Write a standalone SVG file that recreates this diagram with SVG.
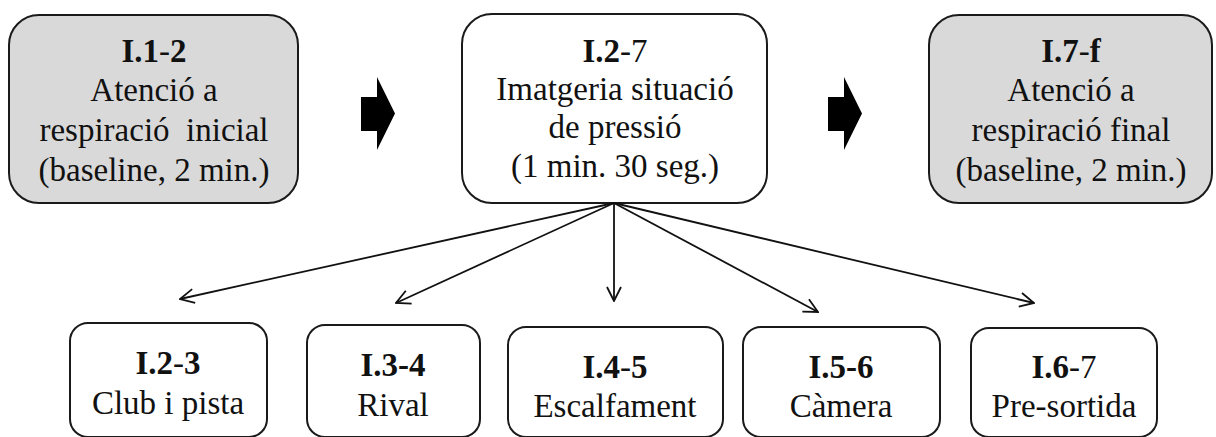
<svg xmlns="http://www.w3.org/2000/svg" width="1216" height="437" viewBox="0 0 1216 437">
  <style>
    .box { fill: #ffffff; stroke: #1a1a1a; stroke-width: 2; }
    .grey { fill: #d9d9d9; }
    .t { font-family: "Liberation Serif", "Times New Roman", serif; font-size: 33px; fill: #111; text-anchor: middle; }
    .b { font-weight: bold; }
    .link { fill: none; stroke: #111; stroke-width: 1.8; marker-end: url(#open); }
    .block { fill: #000; }
  </style>
  <defs>
    <!-- open V arrowhead for the branch lines -->
    <marker id="open" viewBox="0 0 16 16" refX="15" refY="8" markerWidth="16" markerHeight="16" markerUnits="userSpaceOnUse" orient="auto">
      <path d="M1,1 L15,8 L1,15" fill="none" stroke="#111" stroke-width="1.8"/>
    </marker>
  </defs>

  <rect width="1216" height="437" fill="#ffffff"/>

  <!-- top row: sequence of phases -->
  <g id="n-baseline-initial">
    <rect class="box grey" x="9" y="15" width="289" height="188" rx="30"/>
    <text class="t" x="154" y="62"><tspan class="b">I.1</tspan>-<tspan class="b">2</tspan></text>
    <text class="t" x="154" y="101">Atenció a</text>
    <text class="t" x="154" y="141" xml:space="preserve">respiració  inicial</text>
    <text class="t" x="154" y="181">(baseline, 2 min.)</text>
  </g>

  <g id="n-imagery">
    <rect class="box" x="462" y="14" width="305" height="189" rx="30"/>
    <text class="t" x="615" y="62"><tspan class="b">I.2</tspan>-7</text>
    <text class="t" x="615" y="100">Imatgeria situació</text>
    <text class="t" x="615" y="138">de pressió</text>
    <text class="t" x="615" y="177">(1 min. 30 seg.)</text>
  </g>

  <g id="n-baseline-final">
    <rect class="box grey" x="929" y="15" width="283" height="188" rx="30"/>
    <text class="t" x="1071" y="62"><tspan class="b">I.7</tspan>-<tspan class="b">f</tspan></text>
    <text class="t" x="1071" y="101">Atenció a</text>
    <text class="t" x="1071" y="141">respiració final</text>
    <text class="t" x="1071" y="181">(baseline, 2 min.)</text>
  </g>

  <!-- bottom row: imagery sub-phases -->
  <g id="n-club">
    <rect class="box" x="70" y="323" width="197" height="114" rx="18"/>
    <text class="t" x="168" y="374"><tspan class="b">I.2</tspan>-<tspan class="b">3</tspan></text>
    <text class="t" x="168" y="414">Club i pista</text>
  </g>

  <g id="n-rival">
    <rect class="box" x="307" y="325" width="173" height="112" rx="18"/>
    <text class="t b" x="393" y="376">I.3-4</text>
    <text class="t" x="393" y="416">Rival</text>
  </g>

  <g id="n-warmup">
    <rect class="box" x="508" y="327" width="215" height="110" rx="18"/>
    <text class="t" x="615" y="378"><tspan class="b">I.4</tspan>-<tspan class="b">5</tspan></text>
    <text class="t" x="615" y="417">Escalfament</text>
  </g>

  <g id="n-camera">
    <rect class="box" x="743" y="327" width="197" height="110" rx="18"/>
    <text class="t b" x="841" y="378">I.5-6</text>
    <text class="t" x="841" y="417">Càmera</text>
  </g>

  <g id="n-pre-exit">
    <rect class="box" x="971" y="328" width="186" height="109" rx="18"/>
    <text class="t" x="1064" y="378"><tspan class="b">I.6</tspan>-7</text>
    <text class="t" x="1064" y="417">Pre-sortida</text>
  </g>

  <!-- connectors -->
  <g id="connectors">
    <polygon class="block" points="361,97 377,97 377,77 395,113.5 377,150 377,131 361,131"/>
    <polygon class="block" points="828,97 844,97 844,77 862,113.5 844,150 844,131 828,131"/>
    <line class="link" x1="614" y1="203" x2="180" y2="299"/>
    <line class="link" x1="614" y1="203" x2="396" y2="303"/>
    <line class="link" x1="614" y1="203" x2="614" y2="301"/>
    <line class="link" x1="614" y1="203" x2="818" y2="312"/>
    <line class="link" x1="614" y1="203" x2="1034" y2="303"/>
  </g>
</svg>
